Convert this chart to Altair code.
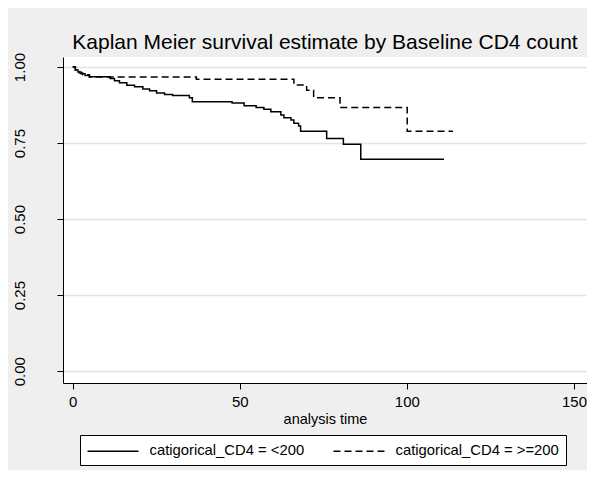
import altair as alt
import pandas as pd

# Kaplan-Meier step points
group_names = ["catigorical_CD4 = <200", "catigorical_CD4 = >=200"]

time_lt200 = [0, 0.8, 1.6, 2.5, 3.7, 5.0, 11.2, 12.5, 14.0, 16.2, 18.5, 21.0, 23.0,
              25.1, 27.5, 29.9, 34.9, 35.8, 47.7, 51.3, 54.9, 57.2, 59.3, 62.3,
              63.2, 65.3, 66.2, 67.6, 68.2, 76.0, 81.0, 86.2, 111.1]
surv_lt200 = [1.0, 0.990, 0.984, 0.978, 0.972, 0.968, 0.962, 0.955, 0.948, 0.940,
              0.935, 0.928, 0.922, 0.915, 0.910, 0.906, 0.899, 0.886, 0.882, 0.873,
              0.867, 0.861, 0.853, 0.842, 0.833, 0.826, 0.815, 0.806, 0.789, 0.765,
              0.746, 0.697, 0.697]

time_ge200 = [0, 0.8, 2.0, 3.0, 5.0, 37.0, 66.2, 70.0, 72.1, 80.0, 100.1, 113.8]
surv_ge200 = [1.0, 0.990, 0.980, 0.975, 0.967, 0.960, 0.941, 0.924, 0.899, 0.867,
              0.789, 0.789]

x_ticks = [0, 50, 100, 150]
y_ticks = [0, 0.25, 0.5, 0.75, 1.0]

df = pd.concat([
    pd.DataFrame({"time": time_lt200, "surv": surv_lt200, "group": group_names[0]}),
    pd.DataFrame({"time": time_ge200, "surv": surv_ge200, "group": group_names[1]}),
])

FONT = "Liberation Sans, Arial, sans-serif"

chart = alt.Chart(df).mark_line(
    interpolate="step-after", color="black", strokeWidth=1.5
).encode(
    x=alt.X("time:Q",
            scale=alt.Scale(domain=[-2.9, 153.9], nice=False, zero=False),
            axis=alt.Axis(values=x_ticks, title="analysis time", grid=False,
                          domainColor="black", tickColor="black", tickSize=6,
                          labelFontSize=15, labelFont=FONT, labelColor="black",
                          labelPadding=5, labelFlush=False,
                          titleFontSize=14.5, titleFont=FONT, titleColor="black",
                          titleFontWeight="normal", titlePadding=3)),
    y=alt.Y("surv:Q",
            scale=alt.Scale(domain=[-0.039, 1.033], nice=False, zero=False),
            axis=alt.Axis(values=y_ticks, format=".2f", title=None, grid=True,
                          gridColor="#E4E4E4", gridWidth=1.3,
                          domainColor="black", tickColor="black", tickSize=6,
                          labelFontSize=15, labelFont=FONT, labelColor="black",
                          labelAngle=270, labelAlign="center",
                          labelBaseline="alphabetic", labelPadding=33)),
    strokeDash=alt.StrokeDash("group:N",
                              scale=alt.Scale(domain=group_names,
                                              range=[[1, 0], [7, 4]]),
                              legend=alt.Legend(orient="none", legendX=17, legendY=378,
                                                direction="horizontal", title=None,
                                                strokeColor="black", fillColor="white",
                                                padding=6.5, symbolType="M-1,0H5",
                                                symbolSize=289, symbolStrokeWidth=1.5,
                                                symbolStrokeColor="black",
                                                labelFontSize=14.8, labelFont=FONT,
                                                labelColor="black", labelOffset=44,
                                                columnPadding=26, labelLimit=300)),
    detail="group:N",
).properties(
    width=524, height=326,
    padding={"left": 55, "top": 49, "right": 0, "bottom": 87},
    autosize="none",
    title=alt.TitleParams("Kaplan Meier survival estimate by Baseline CD4 count",
                          fontSize=21, fontWeight="normal", font=FONT, color="black",
                          anchor="middle", frame="group", baseline="alphabetic",
                          offset=7, dy=25),
).configure(background="#EFEFEF").configure_view(fill="white", stroke=None)

chart.save("out.html", embed_options={"renderer": "svg", "actions": False})
